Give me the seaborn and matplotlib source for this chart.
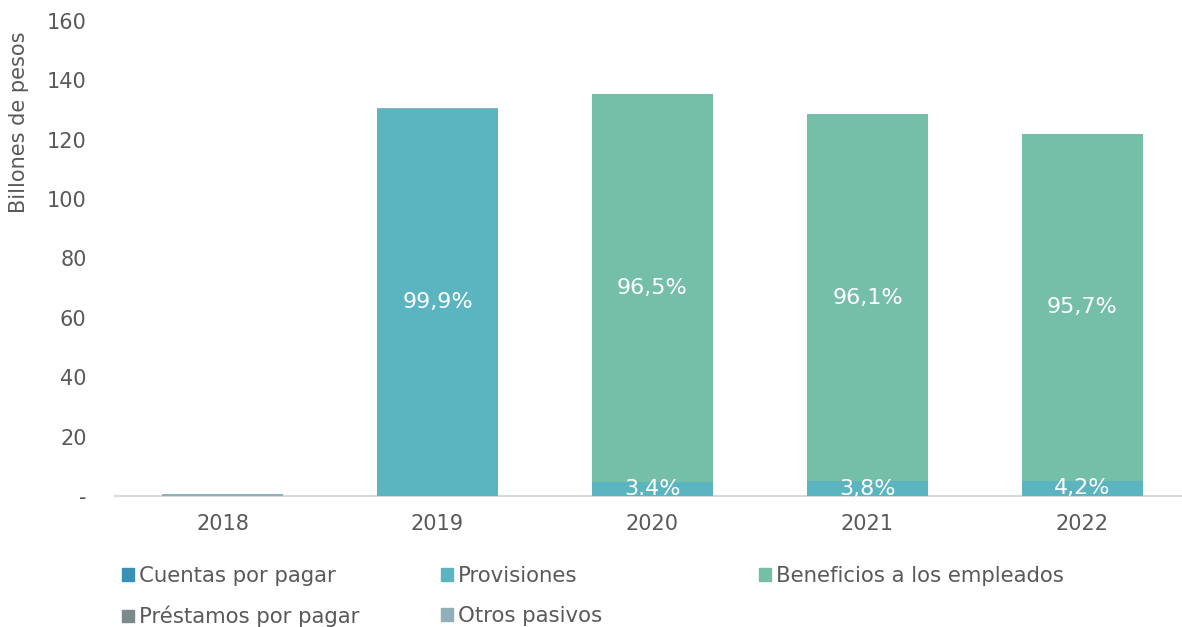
import numpy as np
import pandas as pd
import seaborn as sns
import matplotlib.pyplot as plt

# Datos (billones de pesos)
anios = ["2018", "2019", "2020", "2021", "2022"]
cuentas_por_pagar = [0.0, 0.0, 0.0, 0.0, 0.0]
provisiones = [0.0, 130.5, 4.6, 4.9, 5.1]
beneficios = [0.0, 0.0, 130.8, 123.7, 116.8]
prestamos_por_pagar = [0.0, 0.0, 0.0, 0.0, 0.0]
otros_pasivos = [0.7, 0.15, 0.0, 0.0, 0.0]

etiquetas_provisiones = ["", "99,9%", "3.4%", "3,8%", "4,2%"]
etiquetas_beneficios = ["", "", "96,5%", "96,1%", "95,7%"]

series = [
    ("Cuentas por pagar", cuentas_por_pagar, "#3a8fb7", None),
    ("Provisiones", provisiones, "#5ab5c0", etiquetas_provisiones),
    ("Beneficios a los empleados", beneficios, "#75bea8", etiquetas_beneficios),
    ("Préstamos por pagar", prestamos_por_pagar, "#7b8a8b", None),
    ("Otros pasivos", otros_pasivos, "#8fb0b8", None),
]

sns.set_style("white")
plt.rcParams['font.family'] = ['DejaVu Sans']
gris = "#595959"

fig = plt.figure(figsize=(11.82, 6.27), dpi=100)
ax = fig.add_axes([115 / 1182, 1 - 496 / 627, 1 - 115 / 1182, (496 - 21) / 627])

df = pd.DataFrame({"Año": anios})
base = np.zeros(len(anios))
handles = {}
for nombre, valores, color, etiquetas in series:
    valores = np.array(valores)
    sns.barplot(data=df.assign(v=valores), x="Año", y="v", color=color,
                saturation=1, width=0.56, bottom=base, linewidth=0, ax=ax)
    handles[nombre] = plt.Rectangle((0, 0), 1, 1, color=color)
    if etiquetas is not None:
        for i, txt in enumerate(etiquetas):
            if txt:
                ax.text(i, base[i] + valores[i] / 2, txt, ha="center", va="center",
                        color="white", fontsize=16)
    base = base + valores

ax.set_ylim(0, 160)
ax.set_xlim(-0.5, 4.463)
ax.set_yticks(range(0, 161, 20))
ax.set_yticklabels(["-"] + [str(v) for v in range(20, 161, 20)])
ax.tick_params(axis="both", length=0, labelsize=15, labelcolor=gris)
ax.tick_params(axis="y", pad=20.5)
ax.tick_params(axis="x", pad=13)
ax.set_xlabel("")
ax.set_ylabel("Billones de pesos", fontsize=15, color=gris)
ax.yaxis.set_label_coords(-0.081, 0.787)
for lado in ["top", "right", "left"]:
    ax.spines[lado].set_visible(False)
ax.spines["bottom"].set_color("#d9d9d9")
ax.spines["bottom"].set_linewidth(1.5)
ax.spines["bottom"].set_zorder(0)

# Leyenda en tres columnas
columnas = [
    (["Cuentas por pagar", "Préstamos por pagar"], 122),
    (["Provisiones", "Otros pasivos"], 441),
    (["Beneficios a los empleados"], 759),
]
for nombres, x0 in columnas:
    leg = fig.legend([handles[n] for n in nombres], nombres, loc="upper left",
                     bbox_to_anchor=(x0 / 1182, 1 - 566 / 627), frameon=False,
                     fontsize=15.3, labelcolor=gris, borderpad=0, borderaxespad=0,
                     handlelength=0.55, handleheight=0.55, handletextpad=0.25,
                     labelspacing=0.94)

fig.savefig("out.png", dpi=100)
